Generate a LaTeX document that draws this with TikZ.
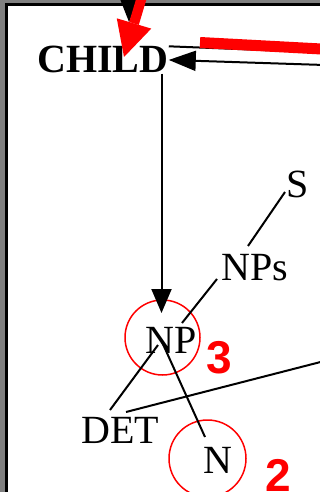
\documentclass[tikz,border=0pt]{standalone}
\usepackage{fontspec}
\setmainfont{Liberation Serif}
\newfontfamily\numfont{Liberation Sans}
\usetikzlibrary{arrows.meta, calc}
\definecolor{rojo}{RGB}{255,0,0}
\definecolor{grisfondo}{RGB}{128,128,128}

\begin{document}
\begin{tikzpicture}[x=1pt, y=-1pt,
    palabra/.style={font=\fontsize{40}{42}\selectfont, anchor=base, inner sep=0pt},
    numero/.style={font=\numfont\fontsize{46}{48}\selectfont\bfseries, text=rojo, anchor=base, inner sep=0pt},
    anillo/.style={circle, draw=rojo, line width=1.5pt, inner sep=0pt},
    rama/.style={line width=2pt},
    flecha/.style={line width=2pt, -{Triangle[length=24pt, width=20pt]}}]
  \useasboundingbox (0,0) rectangle (320,492);
  \clip (0,0) rectangle (320,492);
  \fill[grisfondo] (0,0) rectangle (320,492);
  \draw[line width=3pt, fill=white] (6.5,4.5) rectangle (360,520);
  \node[anillo, minimum size=75pt] (anp) at (162.5,337.5) {};
  \node[anillo, minimum size=77pt] (an) at (207.5,458.5) {};
  \node[font=\fontsize{40}{42}\selectfont\bfseries, anchor=base, inner sep=0pt] (child) at (103,73) {CHILD};
  \node[palabra] (s) at (297.5,197) {S};
  \node[palabra] (nps) at (255,280) {NPs};
  \node[palabra] (np) at (171,353) {NP};
  \node[palabra] (det) at (120,443) {DET};
  \node[palabra] (n) at (218,473) {N};
  \node[numero] (tres) at (219.5,373) {3};
  \node[numero] (dos) at (278.5,491) {2};
  \coordinate (arriba) at (131,-40); \coordinate (arribafin) at (129,22);
  \coordinate (rojoini) at (144,-10); \coordinate (rojofin) at (124,57);
  \coordinate (barraini) at (200,42.5); \coordinate (barrafin) at (340,50);
  \coordinate (fuera1) at (340,53); \coordinate (fuera2) at (340,65.5); \coordinate (fuera3) at (340,357);
  \coordinate (npin) at (161.5,313);
  \coordinate (s-b) at (285,192); \coordinate (nps-t) at (248,246); \coordinate (nps-b) at (217,279);
  \coordinate (np-t) at (182,323); \coordinate (np-l) at (158,345); \coordinate (np-r) at (162,342);
  \coordinate (det-t) at (110,410); \coordinate (det-r) at (126,412); \coordinate (n-t) at (205,437);
  \draw[rama] (s-b) -- (nps-t);
  \draw[rama] (nps-b) -- (np-t);
  \draw[rama] (np-l) -- (det-t);
  \draw[rama] (np-r) -- (n-t);
  \draw[rama] (det-r) -- (fuera3);
  \draw[rama] (child.north east) -- (fuera1);
  \draw[flecha, -{Triangle[length=27pt, width=20pt]}] (fuera2) -- (child.east);
  \draw[flecha] (child.south -| npin) -- (npin);
  \draw[flecha] (arriba) -- (arribafin);
  \draw[rojo, line width=11pt] (barraini) -- (barrafin);
  \draw[rojo, line width=10pt, -{Triangle[length=35pt, width=36pt, line width=0pt]}] (rojoini) -- (rojofin);
\end{tikzpicture}
\end{document}
